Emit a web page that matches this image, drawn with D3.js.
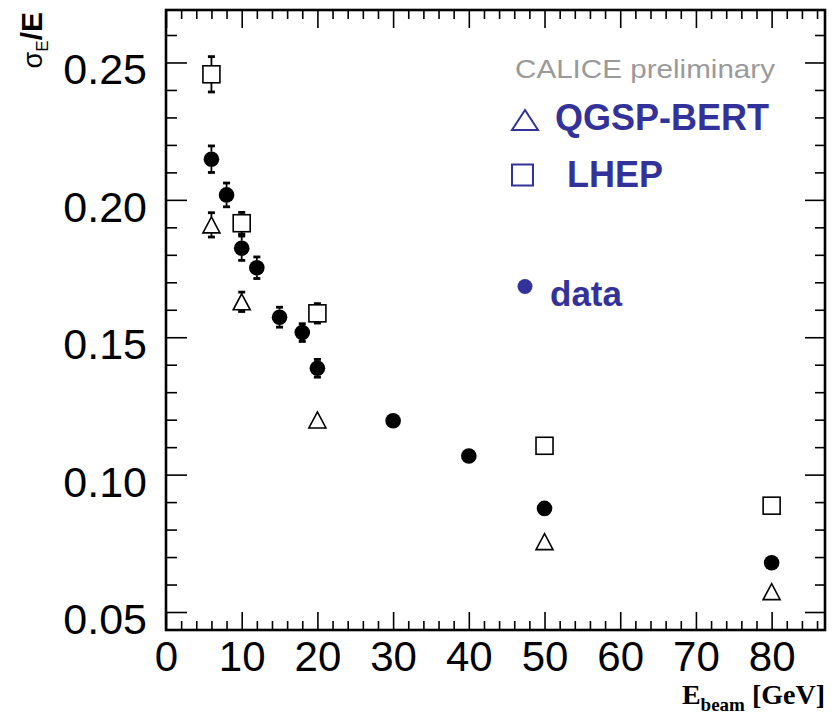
<!DOCTYPE html>
<html>
<head>
<meta charset="utf-8">
<script src="https://cdn.jsdelivr.net/npm/d3@7"></script>
<style>
  html, body { margin: 0; padding: 0; background: #fff; }
  svg { display: block; }
</style>
</head>
<body>
<svg id="chart" width="836" height="717"></svg>
<script>
// Energy resolution of the calorimeter vs beam energy: data and two physics lists
const dataEnergy = [6, 8, 10, 12, 15, 18, 20, 30, 40, 50, 80];
const dataRes    = [0.2148, 0.2018, 0.1824, 0.1753, 0.1573, 0.1517, 0.1387, 0.1196, 0.1068, 0.0877, 0.0679];
const dataErr    = [0.0049, 0.0044, 0.0045, 0.0040, 0.0037, 0.0033, 0.0033, 0.0020, 0.0020, 0.0015, 0.0015];

const simEnergy  = [6, 10, 20, 50, 80];
const qgspRes    = [0.1909, 0.1629, 0.1199, 0.0756, 0.0574];
const qgspErr    = [0.0045, 0.0036, 0.0022, 0.0015, 0.0030];
const lhepRes    = [0.2457, 0.1915, 0.1587, 0.1105, 0.0887];
const lhepErr    = [0.0065, 0.0040, 0.0036, 0.0015, 0.0015];

const xMajorTicks = [0, 10, 20, 30, 40, 50, 60, 70, 80];
const yMajorTicks = [0.05, 0.10, 0.15, 0.20, 0.25];

const svg = d3.select("#chart");
const frame = { left: 166, right: 825, top: 10, bottom: 630 };

const x = d3.scaleLinear().domain([0, 87.05]).range([frame.left, frame.right]);
const y = d3.scaleLinear().domain([0.04345, 0.2691]).range([frame.bottom, frame.top]);

const xMinor = d3.range(0, 87, 2).filter(v => v % 10 !== 0);
const yMinor = d3.range(5, 27).map(v => v / 100).filter(v => Math.round(v * 100) % 5 !== 0);

const tickFont = "'Liberation Sans', Arial, sans-serif";
const navy = "#32329a";

function styleAxis(g) {
  g.select(".domain").remove();
  g.selectAll(".tick line").attr("stroke", "#000").attr("stroke-width", 1.6);
}

// Bottom axis with labels
svg.append("g").attr("transform", `translate(0,${frame.bottom})`)
  .call(d3.axisBottom(x).tickValues(xMajorTicks).tickSize(-18).tickPadding(11).tickFormat(d3.format("d")))
  .call(styleAxis)
  .call(g => g.selectAll("text").attr("font-family", tickFont).attr("font-size", 42).attr("fill", "#000"));
svg.append("g").attr("transform", `translate(0,${frame.bottom})`)
  .call(d3.axisBottom(x).tickValues(xMinor).tickSize(-9).tickFormat(""))
  .call(styleAxis);

// Top axis (ticks only)
svg.append("g").attr("transform", `translate(0,${frame.top})`)
  .call(d3.axisTop(x).tickValues(xMajorTicks).tickSize(-18).tickFormat(""))
  .call(styleAxis);
svg.append("g").attr("transform", `translate(0,${frame.top})`)
  .call(d3.axisTop(x).tickValues(xMinor).tickSize(-9).tickFormat(""))
  .call(styleAxis);

// Left axis with labels
svg.append("g").attr("transform", `translate(${frame.left},0)`)
  .call(d3.axisLeft(y).tickValues(yMajorTicks).tickSize(-21).tickPadding(19).tickFormat(d3.format(".2f")))
  .call(styleAxis)
  .call(g => g.selectAll("text").attr("font-family", tickFont).attr("font-size", 43).attr("fill", "#000").attr("dy", "0.5em"));
svg.append("g").attr("transform", `translate(${frame.left},0)`)
  .call(d3.axisLeft(y).tickValues(yMinor).tickSize(-11).tickFormat(""))
  .call(styleAxis);

// Right axis (ticks only)
svg.append("g").attr("transform", `translate(${frame.right},0)`)
  .call(d3.axisRight(y).tickValues(yMajorTicks).tickSize(-20).tickFormat(""))
  .call(styleAxis);
svg.append("g").attr("transform", `translate(${frame.right},0)`)
  .call(d3.axisRight(y).tickValues(yMinor).tickSize(-10).tickFormat(""))
  .call(styleAxis);

// Frame
svg.append("rect")
  .attr("x", frame.left).attr("y", frame.top)
  .attr("width", frame.right - frame.left).attr("height", frame.bottom - frame.top)
  .attr("fill", "none").attr("stroke", "#000").attr("stroke-width", 2.6);

// Error bars drawn outside the marker, with small end caps
function errorBars(energies, values, errors, half) {
  const g = svg.append("g");
  energies.forEach((e, i) => {
    const cx = x(e), cy = y(values[i]);
    const top = y(values[i] + errors[i]), bot = y(values[i] - errors[i]);
    if (cy - top > half + 1) {
      g.append("line").attr("x1", cx).attr("x2", cx).attr("y1", cy - half).attr("y2", top)
        .attr("stroke", "#000").attr("stroke-width", 1.8);
      g.append("rect").attr("x", cx - 3.5).attr("y", top - 1.2).attr("width", 7).attr("height", 2.8).attr("fill", "#000");
    }
    if (bot - cy > half + 1) {
      g.append("line").attr("x1", cx).attr("x2", cx).attr("y1", cy + half).attr("y2", bot)
        .attr("stroke", "#000").attr("stroke-width", 1.8);
      g.append("rect").attr("x", cx - 3.5).attr("y", bot - 1.6).attr("width", 7).attr("height", 2.8).attr("fill", "#000");
    }
  });
}

function trianglePath(w, h) {
  return `M0,${-h / 2}L${w / 2},${h / 2}L${-w / 2},${h / 2}Z`;
}

// LHEP: open squares
errorBars(simEnergy, lhepRes, lhepErr, 8.5);
svg.append("g").selectAll("rect").data(simEnergy).join("rect")
  .attr("x", d => x(d) - 8.5)
  .attr("y", (d, i) => y(lhepRes[i]) - 8.5)
  .attr("width", 17).attr("height", 17)
  .attr("fill", "#fff").attr("stroke", "#000").attr("stroke-width", 1.6);

// QGSP-BERT: open triangles
errorBars(simEnergy, qgspRes, qgspErr, 8);
svg.append("g").selectAll("path").data(simEnergy).join("path")
  .attr("transform", (d, i) => `translate(${x(d)},${y(qgspRes[i])})`)
  .attr("d", trianglePath(17, 16))
  .attr("fill", "#fff").attr("stroke", "#000").attr("stroke-width", 1.6);

// Data: filled circles
errorBars(dataEnergy, dataRes, dataErr, 7.5);
svg.append("g").selectAll("circle").data(dataEnergy).join("circle")
  .attr("cx", d => x(d))
  .attr("cy", (d, i) => y(dataRes[i]))
  .attr("r", 7.8)
  .attr("fill", "#000");

// Legend
svg.append("text").attr("x", 515).attr("y", 78)
  .attr("font-family", tickFont).attr("font-size", 26).attr("fill", "#9a9a9a")
  .attr("textLength", 260).attr("lengthAdjust", "spacingAndGlyphs")
  .text("CALICE preliminary");

svg.append("path").attr("transform", "translate(525,120)")
  .attr("d", trianglePath(26, 20))
  .attr("fill", "none").attr("stroke", navy).attr("stroke-width", 2);
svg.append("text").attr("x", 555).attr("y", 130)
  .attr("font-family", tickFont).attr("font-weight", "bold").attr("font-size", 36).attr("fill", navy)
  .text("QGSP-BERT");

svg.append("rect").attr("x", 512).attr("y", 164.5).attr("width", 21).attr("height", 21)
  .attr("fill", "none").attr("stroke", navy).attr("stroke-width", 2);
svg.append("text").attr("x", 567).attr("y", 186.5)
  .attr("font-family", tickFont).attr("font-weight", "bold").attr("font-size", 36).attr("fill", navy)
  .text("LHEP");

svg.append("circle").attr("cx", 525).attr("cy", 286.5).attr("r", 7.5).attr("fill", navy);
svg.append("text").attr("x", 550).attr("y", 306)
  .attr("font-family", tickFont).attr("font-weight", "bold").attr("font-size", 35).attr("fill", navy)
  .text("data");

// Axis titles
const yTitle = svg.append("text")
  .attr("transform", "translate(42,12) rotate(-90)")
  .attr("text-anchor", "end")
  .attr("font-family", tickFont).attr("fill", "#000");
yTitle.append("tspan").attr("font-size", 27).text("σ");
yTitle.append("tspan").attr("font-size", 17).attr("dy", 6).text("E");
yTitle.append("tspan").attr("font-size", 30).attr("font-weight", "bold").attr("dy", -6).text("/E");

const xTitle = svg.append("text")
  .attr("x", 825).attr("y", 704)
  .attr("text-anchor", "end")
  .attr("font-family", "'Liberation Serif', 'Times New Roman', serif")
  .attr("font-weight", "bold").attr("fill", "#000");
xTitle.append("tspan").attr("font-size", 28).text("E");
xTitle.append("tspan").attr("font-size", 19).attr("dy", 7).text("beam");
xTitle.append("tspan").attr("font-size", 28).attr("dy", -7).text(" [GeV]");
</script>
</body>
</html>
